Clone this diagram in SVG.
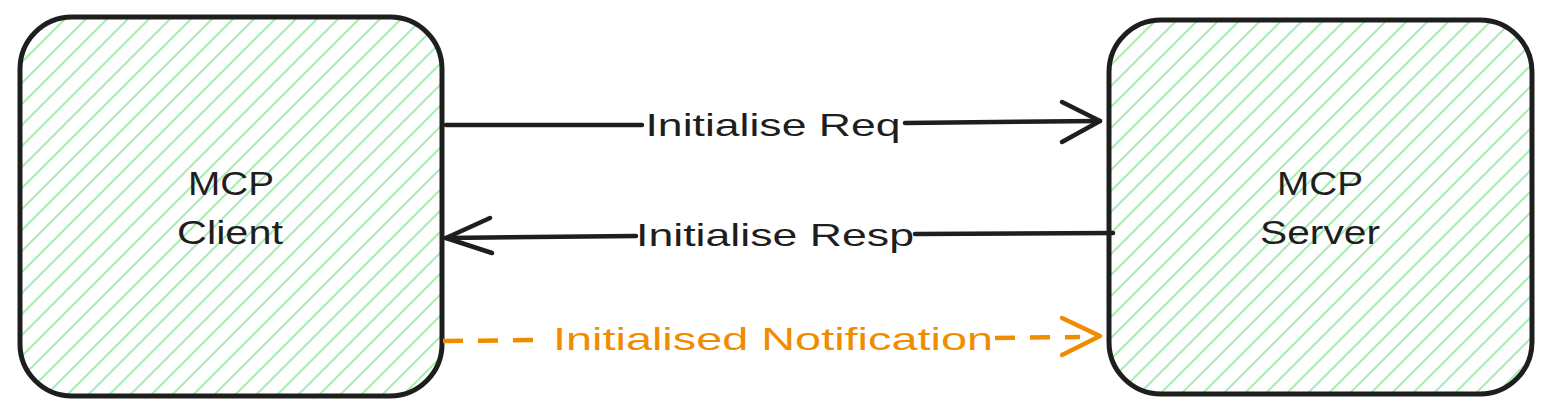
<svg xmlns="http://www.w3.org/2000/svg" width="1551" height="414" viewBox="0 0 1551 414">
<defs>
<pattern id="hatch" patternUnits="userSpaceOnUse" width="21" height="21">
<path d="M-2 23 L23 -2 M-2 2 L2 -2 M19 23 L23 19" stroke="#a8ecb3" stroke-width="2" fill="none"/>
</pattern>
</defs>
<style>
.box{fill:url(#hatch);stroke:#1e1e1e;stroke-width:5}
.lbl{font-family:"Liberation Sans",Arial,sans-serif;font-size:33px;fill:#1e1e1e;text-anchor:middle}
.conn{fill:none;stroke:#1e1e1e;stroke-width:4.5;stroke-linecap:round;stroke-linejoin:round}
.orange{stroke:#f08c00}
.dash{stroke-dasharray:20 15;stroke-linecap:butt}
.clbl{font-family:"Liberation Sans",Arial,sans-serif;font-size:32px;fill:#1e1e1e;text-anchor:middle}
</style>
<rect width="1551" height="414" fill="#ffffff"/>
<g id="client">
<rect class="box" x="20" y="17" width="422" height="379" rx="52" ry="52"/>
<text class="lbl" x="231" y="195" textLength="86" lengthAdjust="spacingAndGlyphs">MCP</text>
<text class="lbl" x="230" y="244" textLength="106" lengthAdjust="spacingAndGlyphs">Client</text>
</g>
<g id="server">
<rect class="box" x="1109" y="20" width="423" height="374" rx="52" ry="52"/>
<text class="lbl" x="1320" y="195" textLength="86" lengthAdjust="spacingAndGlyphs">MCP</text>
<text class="lbl" x="1320" y="244" textLength="120" lengthAdjust="spacingAndGlyphs">Server</text>
</g>
<g id="connectors">
<path class="conn" d="M446 125 L642 125 M905 123 L1100 121"/>
<path class="conn" d="M1062 102 L1100 121 L1062 142"/>
<text class="clbl" x="773" y="136" textLength="255" lengthAdjust="spacingAndGlyphs">Initialise Req</text>
<path class="conn" d="M1113 233 L915 234 M636 236 L446 238"/>
<path class="conn" d="M490 218 L446 238 L492 253"/>
<text class="clbl" x="775" y="246" textLength="278" lengthAdjust="spacingAndGlyphs">Initialise Resp</text>
<path class="conn orange dash" d="M443 341 L538 340"/>
<path class="conn orange dash" d="M995 338 L1080 337"/>
<path class="conn orange" d="M1062 318 L1100 336 L1062 355"/>
<text class="clbl" x="773" y="350" textLength="440" lengthAdjust="spacingAndGlyphs" style="fill:#f08c00">Initialised Notification</text>
</g>
</svg>
